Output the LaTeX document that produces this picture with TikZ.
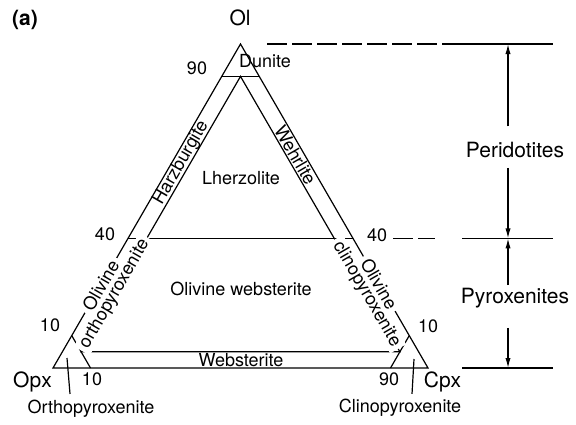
\documentclass[tikz,border=0pt]{standalone}
\usepackage{fontspec}
\setmainfont{TeX Gyre Heros}
\usetikzlibrary{calc}
\usetikzlibrary{arrows.meta}

\tikzset{
  lbl/.style = {font = \fontsize{9}{10}\selectfont, inner sep = 1pt},
  vtx/.style = {font = \fontsize{10.5}{12}\selectfont, inner sep = 1pt},
  side/.style = {font = \fontsize{10.5}{12}\selectfont, inner sep = 1pt},
  online/.style = {lbl, fill = white, inner xsep = 2pt, inner ysep = 0.3pt},
  tip/.style = {-{Latex[length = 5pt, width = 2.6pt]}}
}

\begin{document}
\begin{tikzpicture}[x = 0.5pt, y = 0.5pt, line width = 0.6pt]
  \useasboundingbox (0, 0) rectangle (576, 424);

  \coordinate (Ol) at (240.5, 380);
  \coordinate (Opx) at (53, 56);
  \coordinate (Cpx) at (428, 56);

  \coordinate (d1) at (barycentric cs:Ol=0.9,Opx=0.1);
  \coordinate (d2) at (barycentric cs:Ol=0.9,Cpx=0.1);
  \coordinate (f1) at (barycentric cs:Ol=0.4,Opx=0.6);
  \coordinate (f2) at (barycentric cs:Ol=0.4,Cpx=0.6);
  \coordinate (lz) at (barycentric cs:Ol=0.9,Opx=0.05,Cpx=0.05);
  \coordinate (w1) at (barycentric cs:Ol=0.05,Opx=0.9,Cpx=0.05);
  \coordinate (w2) at (barycentric cs:Ol=0.05,Opx=0.05,Cpx=0.9);
  \coordinate (o1) at (barycentric cs:Ol=0.1,Opx=0.9);
  \coordinate (o2) at (barycentric cs:Opx=0.9,Cpx=0.1);
  \coordinate (c1) at (barycentric cs:Ol=0.1,Cpx=0.9);
  \coordinate (c2) at (barycentric cs:Opx=0.1,Cpx=0.9);

  % field boundaries
  \draw (Ol) -- (Opx) -- (Cpx) -- cycle;
  \draw (d1) -- (d2);
  \draw (f1) -- (f2);
  \draw (w1) -- (lz) -- (w2) -- cycle;
  \draw (o1) -- (o2);
  \draw (c1) -- (c2);

  \node[lbl] (dun) at (265, 363) {Dunite};
  \node[lbl] (lhz) at (241, 246) {Lherzolite};
  \node[lbl] (owb) at (241, 135) {Olivine websterite};
  \node[lbl] (web) at (241, 64) {Websterite};
  \node[lbl, rotate = 60] (hzb)
    at (barycentric cs:Ol=0.633,Opx=0.342,Cpx=0.025) {Harzburgite};
  \node[lbl, rotate = -60] (whr)
    at (barycentric cs:Ol=0.657,Opx=0.025,Cpx=0.318) {Wehrlite};
  \node[online, rotate = 60] (olL)
    at (barycentric cs:Ol=0.255,Opx=0.745) {Olivine};
  \node[online, rotate = 60] (opxL)
    at (barycentric cs:Ol=0.228,Opx=0.722,Cpx=0.05) {orthopyroxenite};
  \node[online, rotate = -60] (olR)
    at (barycentric cs:Ol=0.26,Cpx=0.74) {Olivine};
  \node[online, rotate = -60] (cpxL)
    at (barycentric cs:Ol=0.228,Opx=0.05,Cpx=0.722) {clinopyroxenite};

  % ticks
  \node[lbl] (n90a) at (197, 355.5) {90};
  \node[lbl] (n40a) at (105, 190) {40};
  \node[lbl] (n40b) at (377, 189) {40};
  \node[lbl] (n10a) at (50, 99) {10};
  \node[lbl] (n10b) at (428, 98) {10};
  \node[lbl] (n10c) at (92, 44.5) {10};
  \node[lbl] (n90b) at (389, 44.5) {90};

  \node[vtx, anchor = base] (olLbl) at (240, 398) {Ol};
  \node[vtx, anchor = base] (opxLbl) at (32.5, 37) {Opx};
  \node[vtx, anchor = base] (cpxLbl) at (442.5, 37) {Cpx};
  \node[vtx, font = \fontsize{10.5}{12}\selectfont\bfseries] (tag) at (25, 404) {(a)};

  \node[lbl, anchor = base] (orthoLbl) at (91, 11) {Orthopyroxenite};
  \node[lbl, anchor = base] (clinoLbl) at (400, 12) {Clinopyroxenite};
  \coordinate (op) at (67, 66);
  \coordinate (cp) at (414, 65);
  \draw (op) -- ([shift = {(-21, 3)}]orthoLbl.north);
  \draw (cp) -- ([shift = {(12, 2)}]clinoLbl.north);

  % right-hand scale
  \draw[dash pattern = on 10pt off 2.5pt] (267, 380) -- (462, 380);
  \draw (462, 380) -- (553, 380);
  \draw[dash pattern = on 10pt off 2.5pt] (393, 185.6) -- (435, 185.6);
  \draw (462, 185.6) -- (553, 185.6);
  \draw (462, 56) -- (553, 56);

  \coordinate (axTop) at (508, 380);
  \coordinate (axBot) at (508, 56);
  \coordinate (axMid) at (f2 -| axTop);

  \node[side, anchor = base] (periLbl) at (515, 267) {Peridotites};
  \node[side, anchor = base] (pyroLbl) at (515, 121) {Pyroxenites};
  \draw[tip, shorten <= 6.3pt] (periLbl.north -| axTop) -- (axTop);
  \draw[tip, shorten <= 4pt] (periLbl.south -| axTop) -- (axMid);
  \draw[tip] (pyroLbl.north -| axTop) -- (axMid);
  \draw[tip, shorten <= 8.9pt] (pyroLbl.south -| axTop) -- (axBot);
\end{tikzpicture}
\end{document}
